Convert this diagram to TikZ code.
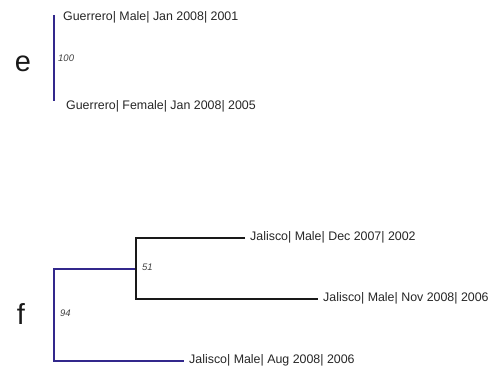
\documentclass[tikz,border=0pt]{standalone}
\usepackage{fontspec}
\setmainfont{Liberation Sans}
\begin{document}
\begin{tikzpicture}[x=1pt,y=-1pt,
  treeblue/.style={draw={rgb,255:red,50;green,40;blue,140},line width=2pt,line join=miter},
  treeblack/.style={draw={rgb,255:red,25;green,25;blue,25},line width=2pt,line join=miter},
  leaf/.style={anchor=west,inner xsep=5pt,inner ysep=0pt,font=\fontsize{12.4}{14}\selectfont,text=black!85},
  support/.style={anchor=west,inner sep=0pt,font=\fontsize{9.5}{11}\selectfont\itshape,text=black!75},
  panel/.style={inner sep=0pt,font=\fontsize{29}{32}\selectfont,text=black!90}]
\useasboundingbox (0,0) rectangle (500,366);
% panel e
\node[panel] (pe) at (23,64) {e};
\coordinate (eTop) at (54,15);
\coordinate (eBot) at (54,101);
\node[leaf] (e1) at (58,17) {Guerrero| Male| Jan 2008| 2001};
\node[leaf] (e2) at (61,106) {Guerrero| Female| Jan 2008| 2005};
\node[support] (s100) at (58,58) {100};
\draw[treeblue] (eTop) -- (eBot);
% panel f
\node[panel] (pf) at (21,314) {f};
\coordinate (fRootTop) at (54,268.5);
\coordinate (fRootBot) at (54,360.5);
\coordinate (fInner) at (136,268.5);
\coordinate (fInTop) at (136,237.5);
\coordinate (fInBot) at (136,298.5);
\node[leaf] (f1) at (245,237.5) {Jalisco| Male| Dec 2007| 2002};
\node[leaf] (f2) at (318,298.5) {Jalisco| Male| Nov 2008| 2006};
\node[leaf] (f3) at (184,360.5) {Jalisco| Male| Aug 2008| 2006};
\node[support] (s51) at (142,267) {51};
\node[support] (s94) at (60,313) {94};
\draw[treeblue] (fInner) -- (fRootTop) -- (fRootBot) -- (f3.west);
\draw[treeblack] (f1.west) -- (fInTop) -- (fInBot) -- (f2.west);
\end{tikzpicture}
\end{document}
